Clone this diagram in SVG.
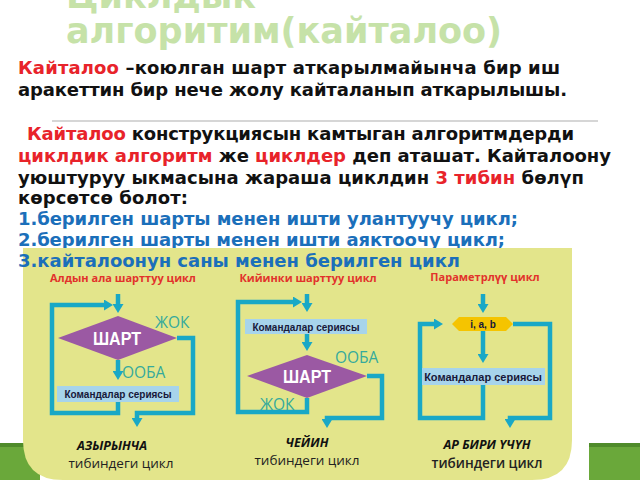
<svg xmlns="http://www.w3.org/2000/svg" width="640" height="480" viewBox="0 0 640 480">
<style>
.title{font-family:"DejaVu Sans",sans-serif;font-weight:bold;font-size:35px;fill:#c6e2a8}
.p{font-family:"DejaVu Sans",sans-serif;font-weight:bold;font-size:18px;fill:#111}
.r{fill:#e8232a}
.b{fill:#1b6fba}
.cap{font-family:"Open Sans",sans-serif;font-weight:bold;font-size:11px;fill:#e2322b;text-anchor:middle}
.cmd{font-family:"Liberation Sans",sans-serif;font-weight:bold;font-size:10px;fill:#17183a;text-anchor:middle}
.sh{font-family:"Liberation Sans",sans-serif;font-weight:bold;font-size:19px;fill:#fff;text-anchor:middle}
.yn{font-family:"Open Sans",sans-serif;font-size:15.5px;fill:#35aa9c}
.it{font-family:"Open Sans",sans-serif;font-weight:bold;font-style:italic;font-size:12.5px;fill:#111;text-anchor:middle}
.tb{font-family:"Open Sans",sans-serif;font-size:13.5px;fill:#222;text-anchor:middle}
.ln{fill:none;stroke:#19a8c6;stroke-width:4.5;stroke-linejoin:miter}
.dia{fill:#9b59a3}
.box{fill:#a7d4eb}
</style>
<defs>
<marker id="ah" viewBox="0 0 9 11" refX="1" refY="5.5" markerWidth="9" markerHeight="11" markerUnits="userSpaceOnUse" orient="auto">
<path d="M0,0 L9,5.5 L0,11 z" fill="#19a8c6"/>
</marker>
</defs>
<rect width="640" height="480" fill="#fff"/>
<g id="title">
<text class="title" x="66" y="8">Циклдык</text>
<text class="title" x="66" y="43">алгоритим(кайталоо)</text>
</g>
<g id="paragraph">
<text class="p" x="18" y="74" textLength="542"><tspan class="r">Кайталоо</tspan> –коюлган шарт аткарылмайынча бир иш</text>
<text class="p" x="18" y="96" textLength="549">аракеттин бир нече жолу кайталанып аткарылышы.</text>
<line x1="52" y1="121" x2="598" y2="121" stroke="#c8c8c8" stroke-width="1.5"/>
<text class="p" x="27" y="140" textLength="547"><tspan class="r">Кайталоо</tspan> конструкциясын камтыган алгоритмдерди</text>
<text class="p" x="18" y="162" textLength="593"><tspan class="r">циклдик алгоритм</tspan> же <tspan class="r">циклдер</tspan> деп аташат. Кайталоону</text>
<text class="p" x="18" y="184" textLength="566">уюштуруу ыкмасына жараша циклдин <tspan class="r">3 тибин</tspan> бөлүп</text>
<text class="p" x="18" y="204" textLength="170">көрсөтсө болот:</text>
<text class="p b" x="18" y="225" textLength="500">1.берилген шарты менен ишти улантуучу цикл;</text>
<text class="p b" x="18" y="246" textLength="487">2.берилген шарты менен ишти аяктоочу цикл;</text>
</g>
<g id="greenbars">
<rect x="0" y="443" width="40" height="37" fill="#6aa83a"/>
<rect x="0" y="443" width="40" height="4" fill="#4f8b2a"/>
<rect x="589" y="443" width="51" height="37" fill="#6aa83a"/>
<rect x="589" y="443" width="51" height="4" fill="#4f8b2a"/>
</g>
<g id="panel">
<path d="M23,248 H572 V440 Q572,480 532,480 H63 Q23,480 23,440 Z" fill="#e3e58b"/>
</g>
<text class="p b" x="18" y="267" textLength="442">3.кайталоонун саны менен берилген цикл</text>
<g id="connectors">
<path class="ln" d="M118,294 V305" marker-end="url(#ah)"/>
<path class="ln" d="M118,402 V413 H52 V305 H105" marker-end="url(#ah)"/>
<path class="ln" d="M118,360 V372" marker-end="url(#ah)"/>
<path class="ln" d="M177,338 H193 V413 H137 V419" marker-end="url(#ah)"/>
<path class="ln" d="M307,294 V304" marker-end="url(#ah)"/>
<path class="ln" d="M307,333 V343" marker-end="url(#ah)"/>
<path class="ln" d="M367,376 H382 V418 H327 V420" marker-end="url(#ah)"/>
<path class="ln" d="M307,398 V412 H238 V302 H294" marker-end="url(#ah)"/>
<path class="ln" d="M483,294 V305" marker-end="url(#ah)"/>
<path class="ln" d="M483,330 V355" marker-end="url(#ah)"/>
<path class="ln" d="M483,385 V418 H420 V324 H435" marker-end="url(#ah)"/>
<path class="ln" d="M513,324 H550 V418 H510 V420" marker-end="url(#ah)"/>
</g>
<g id="chart1">
<text class="cap" x="123" y="282">Алдын ала шарттуу цикл</text>
<g id="cond1">
<polygon class="dia" points="58,338 118,316 177,338 118,360"/>
<text class="sh" x="117" y="345" textLength="48" lengthAdjust="spacingAndGlyphs">ШАРТ</text>
</g>
<text class="yn" x="155" y="328">ЖОК</text>
<text class="yn" x="122" y="378">ООБА</text>
<g id="cmd1">
<rect class="box" x="57" y="386" width="122" height="16"/>
<text class="cmd" x="118" y="398">Командалар сериясы</text>
</g>
<text class="it" x="112" y="450">АЗЫРЫНЧА</text>
<text class="tb" x="121" y="468">тибиндеги цикл</text>
</g>
<g id="chart2">
<text class="cap" x="308" y="282">Кийинки шарттуу цикл</text>
<g id="cmd2">
<rect class="box" x="245" y="319" width="122" height="15"/>
<text class="cmd" x="306" y="331">Командалар сериясы</text>
</g>
<g id="cond2">
<polygon class="dia" points="247,376 307,355 367,376 307,398"/>
<text class="sh" x="307" y="383" textLength="48" lengthAdjust="spacingAndGlyphs">ШАРТ</text>
</g>
<text class="yn" x="335" y="363">ООБА</text>
<text class="yn" x="260" y="410">ЖОК</text>
<text class="it" x="307" y="447">ЧЕЙИН</text>
<text class="tb" x="307" y="465">тибиндеги цикл</text>
</g>
<g id="chart3">
<text class="cap" x="485" y="281">Параметрлүү цикл</text>
<g id="param">
<polygon points="452,324 459,317 506,317 513,324 506,331 459,331" fill="#f5c400"/>
<text class="cmd" x="483" y="328">i, a, b</text>
</g>
<g id="cmd3">
<rect class="box" x="422" y="368" width="123" height="17"/>
<text class="cmd" x="483" y="381" style="font-size:11px">Командалар сериясы</text>
</g>
<text class="it" x="487" y="449">АР  БИРИ ҮЧҮН</text>
<text class="tb" x="487" y="468" style="font-weight:600">тибиндеги цикл</text>
</g>
</svg>
